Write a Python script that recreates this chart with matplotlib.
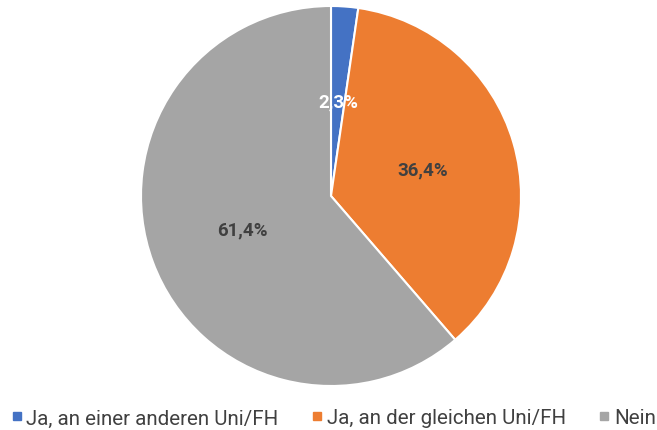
import matplotlib
matplotlib.use("Agg")
import matplotlib.pyplot as plt
from matplotlib.lines import Line2D

labels = ["Ja, an einer anderen Uni/FH", "Ja, an der gleichen Uni/FH", "Nein"]
values = [2.3, 36.4, 61.4]
colors = ["#4472C4", "#ED7D31", "#A5A5A5"]
pct_text_colors = ["white", "#404040", "#404040"]

plt.rcParams['font.family'] = ['Roboto', 'DejaVu Sans']

fig = plt.figure(figsize=(6.57, 4.31), dpi=100)
ax = fig.add_axes([(331 - 190) / 657, (431 - 197 - 190) / 431, 380 / 657, 380 / 431])

wedges, texts, autotexts = ax.pie(
    values, colors=colors, startangle=90, counterclock=False,
    autopct=lambda p: f"{p:.1f}%".replace(".", ","), pctdistance=0.5,
    wedgeprops=dict(edgecolor="white", linewidth=1.5),
    textprops=dict(fontsize=13.5, fontweight="bold"),
)
for t, c, v in zip(autotexts, pct_text_colors, values):
    t.set_color(c)
    t.set_text(f"{v:.1f}%".replace(".", ","))
ax.set_xlim(-1, 1)
ax.set_ylim(-1, 1)
ax.set_aspect("equal")

handles = [Line2D([0], [0], marker="s", linestyle="none", markersize=5.5,
                  markerfacecolor=c, markeredgecolor=c) for c in colors]
fig.legend(handles, labels, loc="center",
           bbox_to_anchor=(0.5 + 5 / 657, 1 - 419 / 431),
           ncol=3, frameon=False, fontsize=14.8, handlelength=0.5,
           handletextpad=0.22, columnspacing=1.62, labelcolor="#404040",
           borderpad=0)

fig.savefig("out.png", dpi=100)
